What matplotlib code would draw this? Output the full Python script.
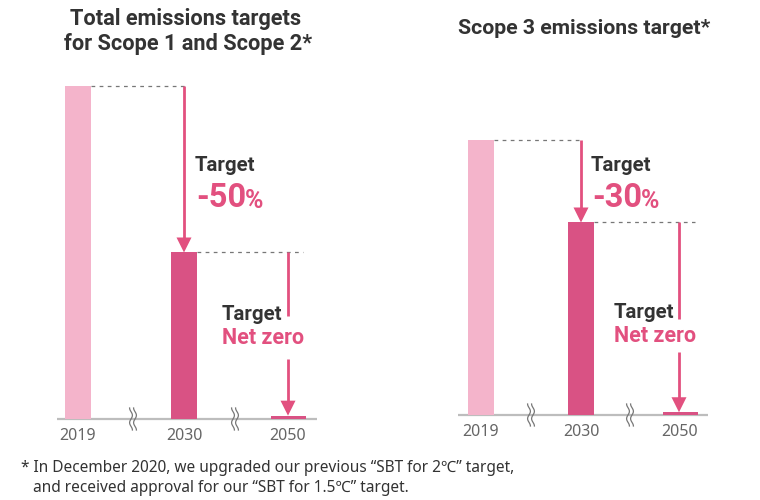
import matplotlib
matplotlib.use("Agg")
import matplotlib.pyplot as plt
import numpy as np
from matplotlib.patches import Polygon

years = ["2019", "2030", "2050"]
scope12_values = [100, 50, 1]
scope3_values = [100, 70, 1]

W, H = 760, 500
LIGHT, DARK, ARROW = "#F4B4CB", "#D95284", "#E2507F"
GREY, AXIS, TEXT = "#666666", "#BDBDBD", "#333333"
fig = plt.figure(figsize=(W / 100, H / 100), dpi=100, facecolor="white")


def panel(values, xs, base, top, xspan, breaks, widths):
    # full-width axes; x in figure pixels, y in percent of 2019 emissions
    ax = fig.add_axes([0, 0, 1, 1], facecolor="none")
    ppv = (base - top) / 100
    ax.set_xlim(0, W)
    ax.set_ylim(-(H - base) / ppv, base / ppv)
    ax.axis("off")
    ax.bar(xs, values, width=widths, color=[LIGHT, DARK, DARK], zorder=2)
    ax.plot(xspan, [0, 0], color=AXIS, lw=1.6, zorder=1, solid_capstyle="butt")
    for bx in breaks:
        for off in (-2, 2):
            yy = np.linspace(-11 / ppv, 11 / ppv, 30)
            ax.plot(bx + off + 1.4 * np.sin(yy * ppv / 11 * np.pi * 1.5), yy,
                    color="#777777", lw=0.9, zorder=3)
    for x, y in zip(xs, years):
        ax.text(x, -17 / ppv, y, ha="center", va="center", fontsize=11.5,
                family="Noto Sans", color=GREY)
    return ax, ppv


def dashed(ax, x0, x1, v):
    ax.plot([x0, x1], [v, v], color="#777777", lw=0.9, dashes=(3, 3.5), zorder=2)


def arrow(ax, ppv, x, v0, v1, head=True):
    ax.plot([x, x], [v0, v1 + (14 / ppv if head else 0)], color=ARROW, lw=2,
            solid_capstyle="butt", zorder=4)
    if head:
        ax.add_patch(Polygon([(x - 7.5, v1 + 15 / ppv), (x + 7.5, v1 + 15 / ppv), (x, v1)],
                             closed=True, color=ARROW, lw=0, zorder=4))


def label(x, y, s, size, color, weight="bold", family="Roboto", ha="left"):
    fig.text(x / W, 1 - y / H, s, fontsize=size, color=color, fontweight=weight,
             family=family, ha=ha, va="center")


# left panel
a, p = panel(scope12_values, [78, 184, 288], 419, 86, [57, 317], [133, 235], [26, 26, 35])
dashed(a, 91, 186, 100)
dashed(a, 197, 303, 50)
arrow(a, p, 184, 100, 50)
arrow(a, p, 288, 50, 31, head=False)
arrow(a, p, 288, 18, 1)

# right panel
b, q = panel(scope3_values, [481, 581, 680], 415, 140, [458, 708], [531, 630], [26, 26, 35])
dashed(b, 494, 582, 100)
dashed(b, 594, 695, 70)
arrow(b, q, 581, 100, 70)
arrow(b, q, 679, 70, 35, head=False)
arrow(b, q, 679, 23, 1)

label(186, 19, "Total emissions targets", 15.7, TEXT, ha="center")
label(188, 44, "for Scope 1 and Scope 2*", 15.7, TEXT, ha="center")
label(584, 28, "Scope 3 emissions target*", 15.3, TEXT, ha="center")

label(195, 165, "Target", 14.7, TEXT)
label(196, 198, "-50", 23.5, ARROW)
label(245, 201, "%", 18, ARROW)
label(222, 315, "Target", 14.7, TEXT)
label(222, 338, "Net zero", 15.5, ARROW)

label(591, 165, "Target", 14.7, TEXT)
label(592, 198, "-30", 23.5, ARROW)
label(641, 201, "%", 18, ARROW)
label(614, 313, "Target", 14.7, TEXT)
label(614, 336, "Net zero", 15.5, ARROW)

fn = ["Noto Sans", "Noto Sans CJK JP", "DejaVu Sans"]
fig.text(21 / W, 1 - 468 / H, "* In December 2020, we upgraded our previous \u201cSBT for 2\u2103\u201d target,",
         fontsize=11.1, color=TEXT, family=fn, ha="left", va="center")
fig.text(33 / W, 1 - 488 / H, "and received approval for our \u201cSBT for 1.5\u2103\u201d target.",
         fontsize=11.1, color=TEXT, family=fn, ha="left", va="center")

fig.savefig("out.png", dpi=100)
